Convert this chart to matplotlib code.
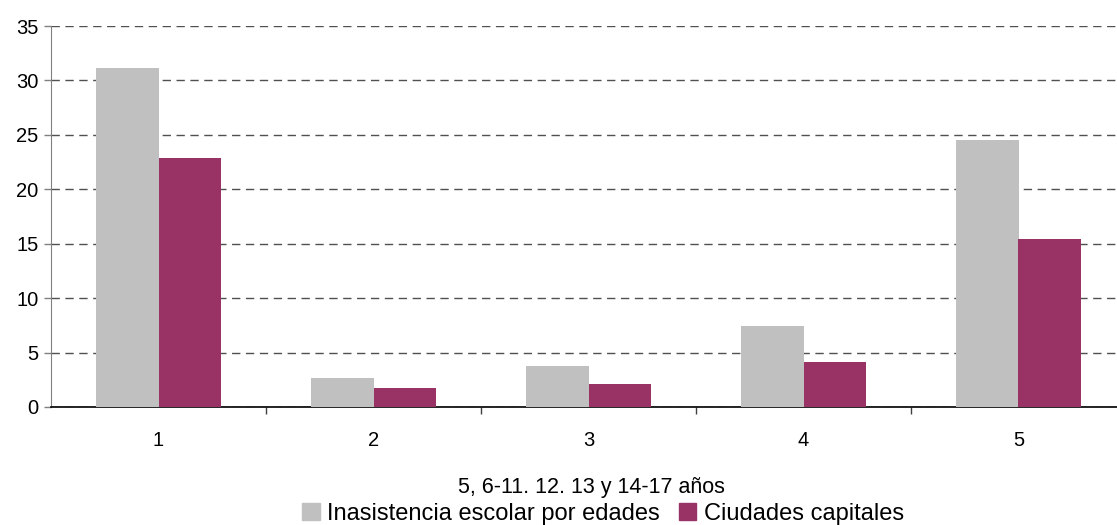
import numpy as np
import matplotlib
matplotlib.use("Agg")
import matplotlib.pyplot as plt
from matplotlib.patches import Patch

plt.rcParams['font.family'] = ['Liberation Sans', 'DejaVu Sans']

categorias = ['1', '2', '3', '4', '5']
inasistencia = [31.1, 2.7, 3.8, 7.4, 24.5]
capitales = [22.9, 1.7, 2.1, 4.1, 15.4]
serie_labels = ['Inasistencia escolar por edades', 'Ciudades capitales']
colores = ['#C0C0C0', '#993366']

fig = plt.figure(figsize=(11.17, 5.25), dpi=100)
ax = fig.add_axes([51 / 1117, 1 - 407 / 525, 1075 / 1117, 381 / 525])

x = np.arange(len(categorias))
w = 0.29
ax.bar(x - w / 2, inasistencia, w, color=colores[0], zorder=3)
ax.bar(x + w / 2, capitales, w, color=colores[1], zorder=3)

ax.set_xlim(-0.5, len(categorias) - 0.5)
ax.set_ylim(0, 35)
ax.set_yticks(range(0, 36, 5))
ax.yaxis.grid(True, linestyle=(0, (6, 4)), color='#505050', linewidth=1, zorder=0)

ax.set_xticks(x)
ax.set_xticklabels(categorias)
ax.set_xticks(np.arange(0.5, len(categorias) - 0.5, 1), minor=True)
ax.tick_params(axis='x', which='major', length=0, pad=17, labelsize=14.5)
ax.tick_params(axis='x', which='minor', length=5, width=1, color='#404040')
ax.tick_params(axis='y', length=5, width=1, color='#808080', pad=4, labelsize=14.5)

for s in ['top', 'right']:
    ax.spines[s].set_visible(False)
ax.spines['left'].set_color('#808080')
ax.spines['bottom'].set_color('black')
ax.spines['bottom'].set_linewidth(1.2)

fig.text(591 / 1117, 1 - 487 / 525, '5, 6-11. 12. 13 y 14-17 años',
         ha='center', va='center', fontsize=15.5)

handles = [Patch(color=c) for c in colores]
fig.legend(handles, serie_labels, loc='center', bbox_to_anchor=(603 / 1117, 1 - 514 / 525),
           ncol=2, frameon=False, fontsize=17, handlelength=0.75, handleheight=0.75,
           handletextpad=0.3, columnspacing=0.8, borderaxespad=0, borderpad=0)

fig.savefig('out.png', dpi=100)
